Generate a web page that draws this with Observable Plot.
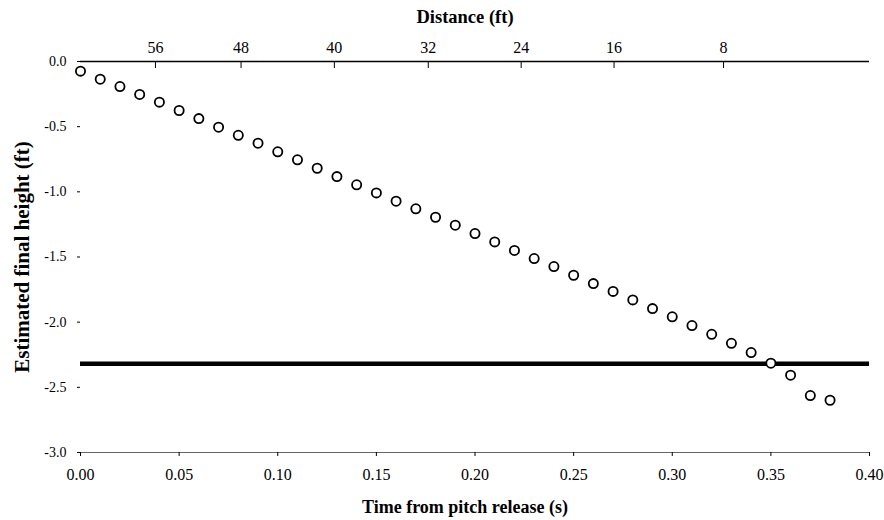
<!DOCTYPE html>
<html>
<head>
<meta charset="utf-8">
<script src="https://cdn.jsdelivr.net/npm/d3@7"></script>
<script src="https://cdn.jsdelivr.net/npm/@observablehq/plot@0.6"></script>
<style>
  html, body { margin: 0; padding: 0; background: white; }
</style>
</head>
<body>
<div id="chart"></div>
<script>
// Data
const times = [0.00, 0.01, 0.02, 0.03, 0.04, 0.05, 0.06, 0.07, 0.08, 0.09,
               0.10, 0.11, 0.12, 0.13, 0.14, 0.15, 0.16, 0.17, 0.18, 0.19,
               0.20, 0.21, 0.22, 0.23, 0.24, 0.25, 0.26, 0.27, 0.28, 0.29,
               0.30, 0.31, 0.32, 0.33, 0.34, 0.35, 0.36, 0.37, 0.38];
const heights = [-0.074, -0.136, -0.192, -0.253, -0.312, -0.376, -0.438, -0.504, -0.566, -0.627,
                 -0.693, -0.754, -0.819, -0.883, -0.946, -1.008, -1.072, -1.130, -1.195, -1.256,
                 -1.320, -1.384, -1.450, -1.512, -1.573, -1.640, -1.704, -1.764, -1.829, -1.896,
                 -1.959, -2.026, -2.093, -2.162, -2.233, -2.315, -2.407, -2.563, -2.599];
const targetHeight = [-2.32];
const xTicks = [0.00, 0.05, 0.10, 0.15, 0.20, 0.25, 0.30, 0.35, 0.40];
const yTicks = [0.0, -0.5, -1.0, -1.5, -2.0, -2.5, -3.0];
const distanceLabels = ["56", "48", "40", "32", "24", "16", "8"];
const distanceTickTimes = [0.038, 0.0814, 0.1287, 0.1763, 0.2234, 0.2705, 0.326];
const xTitle = "Time from pitch release (s)";
const yTitle = "Estimated final height (ft)";
const topTitle = "Distance (ft)";

const points = times.map((t, i) => ({t, h: heights[i]}));
const distMap = new Map(distanceTickTimes.map((t, i) => [t, distanceLabels[i]]));

const chart = Plot.plot({
  width: 884,
  height: 520,
  marginLeft: 80,
  marginRight: 15,
  marginTop: 61,
  marginBottom: 68,
  style: {fontFamily: "Liberation Serif", fontSize: "15px", background: "white", color: "black"},
  x: {domain: [0, 0.4]},
  y: {domain: [-3, 0]},
  marks: [
    Plot.ruleY([0], {stroke: "black", strokeWidth: 1.3}),
    Plot.ruleY([-3], {stroke: "#666", strokeWidth: 1.2}),
    Plot.ruleY(targetHeight, {stroke: "black", strokeWidth: 4.5}),
    Plot.axisY(yTicks, {anchor: "left", tickFormat: d => d.toFixed(1), tickSize: 3, tickPadding: 11, fontSize: 14, label: null}),
    Plot.axisX(xTicks, {anchor: "bottom", tickFormat: d => d.toFixed(2), tickSize: 4, tickPadding: 12, fontSize: 16, label: null}),
    Plot.axisX(distanceTickTimes, {anchor: "top", tickFormat: d => distMap.get(d), tickSize: -6, tickPadding: 15, fontSize: 16, label: null}),
    Plot.dot(points, {x: "t", y: "h", r: 4.6, stroke: "black", strokeWidth: 1.8, fill: "white"}),
    Plot.text([xTitle], {frameAnchor: "bottom", textAnchor: "middle", lineAnchor: "middle", dy: 55, fontWeight: "bold", fontSize: 18, dx: -10}),
    Plot.text([topTitle], {frameAnchor: "top", textAnchor: "middle", lineAnchor: "middle", dy: -44, fontWeight: "bold", fontSize: 18.5, dx: -10}),
    Plot.text([yTitle], {frameAnchor: "left", textAnchor: "middle", lineAnchor: "middle", dx: -58, rotate: -90, fontWeight: "bold", fontSize: 21})
  ]
});
document.getElementById("chart").appendChild(chart);
</script>
</body>
</html>
